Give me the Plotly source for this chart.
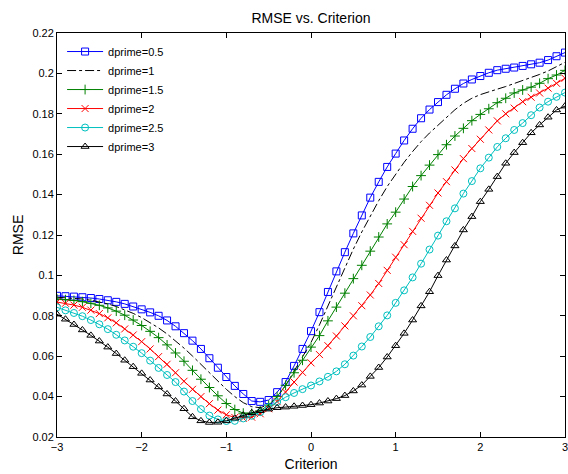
import plotly.graph_objects as go

criterion = [round(-3 + 0.1 * i, 1) for i in range(61)]

rmse_d05 = [0.0899, 0.0897, 0.0895, 0.0892, 0.0888, 0.0883, 0.0877, 0.0869, 0.0859, 0.0846,
            0.0832, 0.0817, 0.0800, 0.0777, 0.0748, 0.0714, 0.0677, 0.0636, 0.0590, 0.0543,
            0.0497, 0.0453, 0.0413, 0.0378, 0.0374, 0.0383, 0.0422, 0.0472, 0.0552, 0.0636,
            0.0724, 0.0818, 0.0918, 0.1020, 0.1115, 0.1208, 0.1297, 0.1385, 0.1463, 0.1537,
            0.1603, 0.1668, 0.1726, 0.1778, 0.1821, 0.1858, 0.1894, 0.1924, 0.1950, 0.1970,
            0.1987, 0.2003, 0.2016, 0.2023, 0.2029, 0.2037, 0.2045, 0.2053, 0.2066, 0.2085,
            0.2103]

rmse_d1 = [0.0892, 0.0890, 0.0887, 0.0883, 0.0877, 0.0869, 0.0859, 0.0846, 0.0830, 0.0812,
           0.0791, 0.0767, 0.0740, 0.0710, 0.0676, 0.0640, 0.0601, 0.0560, 0.0518, 0.0476,
           0.0436, 0.0400, 0.0370, 0.0350, 0.0345, 0.0360, 0.0398, 0.0455, 0.0525, 0.0598,
           0.0668, 0.0755, 0.0850, 0.0945, 0.1040, 0.1130, 0.1215, 0.1295, 0.1370, 0.1440,
           0.1503, 0.1560, 0.1613, 0.1662, 0.1705, 0.1745, 0.1785, 0.1820, 0.1852, 0.1877,
           0.1895, 0.1910, 0.1922, 0.1935, 0.1950, 0.1963, 0.1978, 0.1995, 0.2012, 0.2032,
           0.2055]

rmse_d15 = [0.0883, 0.0880, 0.0876, 0.0870, 0.0862, 0.0852, 0.0839, 0.0823, 0.0803, 0.0779,
            0.0752, 0.0723, 0.0692, 0.0656, 0.0616, 0.0575, 0.0530, 0.0486, 0.0445, 0.0404,
            0.0366, 0.0336, 0.0318, 0.0317, 0.0330, 0.0358, 0.0400, 0.0456, 0.0518, 0.0580,
            0.0645, 0.0702, 0.0775, 0.0843, 0.0912, 0.0984, 0.1050, 0.1120, 0.1190, 0.1255,
            0.1313, 0.1378, 0.1440, 0.1494, 0.1546, 0.1598, 0.1647, 0.1690, 0.1728, 0.1766,
            0.1797, 0.1825, 0.1855, 0.1877, 0.1903, 0.1918, 0.1932, 0.1951, 0.1974, 0.1992,
            0.2015]

rmse_d2 = [0.0868, 0.0862, 0.0853, 0.0842, 0.0828, 0.0811, 0.0790, 0.0765, 0.0735, 0.0705,
           0.0672, 0.0636, 0.0598, 0.0560, 0.0518, 0.0476, 0.0436, 0.0400, 0.0365, 0.0333,
           0.0310, 0.0297, 0.0293, 0.0298, 0.0315, 0.0340, 0.0375, 0.0422, 0.0472, 0.0520,
           0.0567, 0.0608, 0.0652, 0.0700, 0.0750, 0.0800, 0.0850, 0.0903, 0.0960, 0.1025,
           0.1090, 0.1152, 0.1218, 0.1283, 0.1347, 0.1408, 0.1464, 0.1522, 0.1578, 0.1628,
           0.1674, 0.1720, 0.1765, 0.1800, 0.1828, 0.1860, 0.1882, 0.1903, 0.1927, 0.1951,
           0.1976]

rmse_d25 = [0.0842, 0.0827, 0.0814, 0.0798, 0.0779, 0.0758, 0.0734, 0.0706, 0.0678, 0.0647,
            0.0615, 0.0578, 0.0542, 0.0507, 0.0472, 0.0425, 0.0378, 0.0338, 0.0306, 0.0287,
            0.0279, 0.0280, 0.0292, 0.0305, 0.0323, 0.0348, 0.0373, 0.0397, 0.0418, 0.0437,
            0.0455, 0.0475, 0.0498, 0.0525, 0.0560, 0.0603, 0.0648, 0.0695, 0.0748, 0.0802,
            0.0864, 0.0926, 0.0990, 0.1058, 0.1128, 0.1197, 0.1268, 0.1332, 0.1405, 0.1467,
            0.1530, 0.1583, 0.1636, 0.1679, 0.1720, 0.1754, 0.1793, 0.1831, 0.1860, 0.1884,
            0.1905]

rmse_d3 = [0.0808, 0.0783, 0.0757, 0.0730, 0.0703, 0.0675, 0.0645, 0.0613, 0.0580, 0.0548,
           0.0515, 0.0482, 0.0448, 0.0413, 0.0378, 0.0340, 0.0300, 0.0280, 0.0272, 0.0273,
           0.0280, 0.0293, 0.0308, 0.0320, 0.0330, 0.0338, 0.0345, 0.0348, 0.0352, 0.0356,
           0.0360, 0.0368, 0.0378, 0.0390, 0.0405, 0.0428, 0.0457, 0.0500, 0.0544, 0.0596,
           0.0652, 0.0713, 0.0779, 0.0849, 0.0919, 0.0999, 0.1076, 0.1146, 0.1225, 0.1291,
           0.1365, 0.1426, 0.1489, 0.1555, 0.1608, 0.1657, 0.1706, 0.1745, 0.1783, 0.1819,
           0.1838]

series_names = ["dprime=0.5", "dprime=1", "dprime=1.5", "dprime=2", "dprime=2.5", "dprime=3"]
x_ticks = [-3, -2, -1, 0, 1, 2, 3]
x_tick_text = ["\u22123", "\u22122", "\u22121", "0", "1", "2", "3"]
y_ticks = [0.02, 0.04, 0.06, 0.08, 0.1, 0.12, 0.14, 0.16, 0.18, 0.2, 0.22]
y_tick_text = ["0.02", "0.04", "0.06", "0.08", "0.1", "0.12", "0.14", "0.16", "0.18", "0.2", "0.22"]

styles = [
    dict(color="#0000ff", symbol="square-open", dash="solid", mode="lines+markers"),
    dict(color="#000000", symbol="circle", dash="dashdot", mode="lines"),
    dict(color="#008000", symbol="cross-thin-open", dash="solid", mode="lines+markers"),
    dict(color="#ff0000", symbol="x-thin-open", dash="solid", mode="lines+markers"),
    dict(color="#00bfbf", symbol="circle-open", dash="solid", mode="lines+markers"),
    dict(color="#000000", symbol="triangle-up-open", dash="solid", mode="lines+markers"),
]

data = [rmse_d05, rmse_d1, rmse_d15, rmse_d2, rmse_d25, rmse_d3]

fig = go.Figure()
for name, ys, st in zip(series_names, data, styles):
    fig.add_trace(go.Scatter(
        x=criterion, y=ys, name=name, mode=st["mode"],
        line=dict(color=st["color"], width=1, dash=st["dash"]),
        marker=dict(symbol=st["symbol"], size=7, color=st["color"],
                    line=dict(color=st["color"], width=1)),
    ))

font_family = "Liberation Sans, Arial, Helvetica, sans-serif"

fig.update_layout(
    width=568, height=474,
    margin=dict(l=57, r=0, t=33, b=37),
    paper_bgcolor="white", plot_bgcolor="white",
    font=dict(family=font_family, size=11, color="black"),
    title=dict(text="RMSE vs. Criterion", x=0.5, xref="paper", xanchor="center",
               y=1 - 18 / 474, yref="container", yanchor="middle",
               font=dict(size=14, color="black")),
    showlegend=True,
    legend=dict(x=0.01, y=0.99, xanchor="left", yanchor="top",
                bgcolor="rgba(255,255,255,0)", borderwidth=0,
                font=dict(size=11), itemwidth=36, tracegroupgap=0),
    xaxis=dict(range=[-3, 3], tickvals=x_ticks, ticktext=x_tick_text,
               ticks="inside", ticklen=5, tickcolor="black", tickwidth=1,
               showline=True, linecolor="black", linewidth=1, mirror="allticks",
               showgrid=False, zeroline=False, ticklabeloverflow="allow",
               title=dict(text="Criterion", font=dict(size=14), standoff=6),
               tickfont=dict(size=11)),
    yaxis=dict(range=[0.02, 0.22], tickvals=y_ticks, ticktext=y_tick_text,
               ticks="inside", ticklen=5, tickcolor="black", tickwidth=1,
               showline=True, linecolor="black", linewidth=1, mirror="allticks",
               showgrid=False, zeroline=False, ticklabeloverflow="allow",
               title=dict(text="RMSE", font=dict(size=14), standoff=5),
               tickfont=dict(size=11)),
)

fig.write_html("out.html")
